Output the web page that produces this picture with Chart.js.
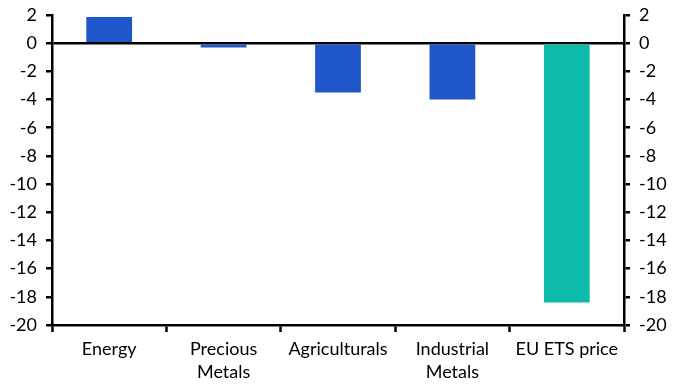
<!DOCTYPE html>
<html><head><meta charset="utf-8">
<script src="https://cdn.jsdelivr.net/npm/chart.js@4/dist/chart.umd.min.js"></script>
<style>html,body{margin:0;padding:0;background:#fff}#w{width:682px;height:391px}</style>
</head><body><div id="w"><canvas id="c"></canvas></div>
<script>
const categories = [['Energy'], ['Precious', 'Metals'], ['Agriculturals'], ['Industrial', 'Metals'], ['EU ETS price']];
const values = [1.85, -0.3, -3.5, -4.0, -18.4];
const barColors = ['#1f57cb', '#1f57cb', '#1f57cb', '#1f57cb', '#0db9a9'];
const yMin = -20, yMax = 2, yStep = 2;

const font = {family: 'Lato, "Noto Sans", sans-serif', size: 18};
const yAxis = (pos, w) => ({
  position: pos, min: yMin, max: yMax,
  afterFit: s => { s.width = w; s.paddingTop = 0; },
  ticks: {stepSize: yStep, color: '#000', font: Object.assign({}, font, {lineHeight: 1.0}), padding: 9},
  border: {color: '#000', width: 2.5},
  grid: {
    drawOnChartArea: pos === 'left',
    color: ctx => (ctx.tick && ctx.tick.value === 0) ? '#000' : 'rgba(0,0,0,0)',
    lineWidth: 2.5, tickColor: '#000', tickWidth: 2.5, tickLength: 6
  }
});
new Chart(document.getElementById('c'), {
  type: 'bar',
  data: {labels: categories, datasets: [{data: values, backgroundColor: barColors, barPercentage: 0.4, categoryPercentage: 1}]},
  options: {
    responsive: true, maintainAspectRatio: false, animation: false,
    layout: {padding: {top: 15, right: 0, left: 0, bottom: 0}},
    plugins: {legend: {display: false}, tooltip: {enabled: false}},
    scales: {
      x: {
        afterFit: s => { s.height = 66; },
        ticks: {color: '#000', font: Object.assign({}, font, {lineHeight: 1.3}), padding: 5, maxRotation: 0, autoSkip: false},
        border: {color: '#000', width: 2.5},
        grid: {offset: true, drawOnChartArea: false, tickColor: '#000', tickWidth: 2.5, tickLength: 7}
      },
      y: yAxis('left', 52),
      y2: yAxis('right', 58)
    }
  }
});
</script></body></html>
